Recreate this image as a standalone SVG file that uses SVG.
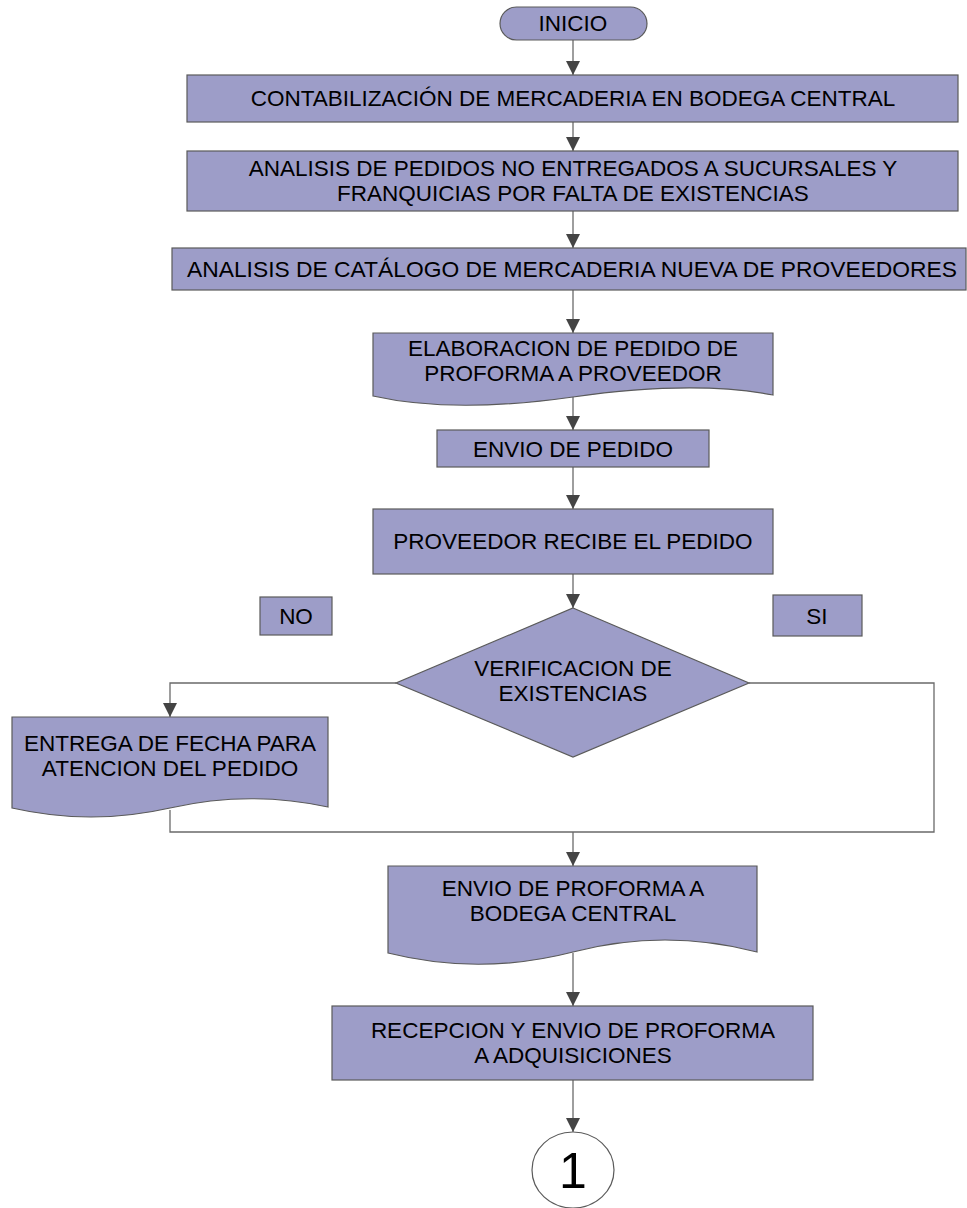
<svg xmlns="http://www.w3.org/2000/svg" width="967" height="1208" viewBox="0 0 967 1208">
  <style>
    .n { fill: #9d9dc8; stroke: #5a5a5a; stroke-width: 1.2; }
    .t { font-family: "Liberation Sans", Arial, sans-serif; font-size: 22.5px; fill: #000; text-anchor: middle; }
    .c { fill: none; stroke: #6a6a6a; stroke-width: 1.3; }
  </style>
  <defs>
    <marker id="arr" viewBox="0 0 14 14" refX="14" refY="7" markerWidth="14" markerHeight="14" markerUnits="userSpaceOnUse" orient="auto">
      <path d="M0,0 L14,7 L0,14 Z" fill="#444"/>
    </marker>
  </defs>
  <rect width="967" height="1208" fill="#fff"/>

  <g id="connectors">
    <path class="c" d="M573,40 V75" marker-end="url(#arr)"/>
    <path class="c" d="M573,122 V151" marker-end="url(#arr)"/>
    <path class="c" d="M573,211 V248" marker-end="url(#arr)"/>
    <path class="c" d="M573,290 V333" marker-end="url(#arr)"/>
    <path class="c" d="M573,397 V430" marker-end="url(#arr)"/>
    <path class="c" d="M573,467 V509" marker-end="url(#arr)"/>
    <path class="c" d="M573,574 V608" marker-end="url(#arr)"/>
    <path class="c" d="M396,683 H170 V717" marker-end="url(#arr)"/>
    <path class="c" d="M749,683 H934 V832 H170 V810"/>
    <path class="c" d="M573,832 V866" marker-end="url(#arr)"/>
    <path class="c" d="M573,953 V1006" marker-end="url(#arr)"/>
    <path class="c" d="M573,1080 V1132" marker-end="url(#arr)"/>
  </g>

  <g id="inicio">
    <rect class="n" x="500" y="7" width="147" height="33" rx="16.5"/>
    <text class="t" x="573" y="31">INICIO</text>
  </g>

  <g id="contabilizacion">
    <rect class="n" x="187" y="75" width="771" height="47"/>
    <text class="t" x="573" y="106">CONTABILIZACIÓN DE MERCADERIA EN BODEGA CENTRAL</text>
  </g>

  <g id="analisis-pedidos">
    <rect class="n" x="187" y="151" width="771" height="60"/>
    <text class="t" x="573" y="176">ANALISIS DE PEDIDOS NO ENTREGADOS A SUCURSALES Y</text>
    <text class="t" x="573" y="201">FRANQUICIAS POR FALTA DE EXISTENCIAS</text>
  </g>

  <g id="analisis-catalogo">
    <rect class="n" x="172" y="248" width="794" height="42"/>
    <text class="t" x="572" y="277" textLength="770" lengthAdjust="spacingAndGlyphs">ANALISIS DE CATÁLOGO DE MERCADERIA NUEVA DE PROVEEDORES</text>
  </g>

  <g id="elaboracion">
    <path class="n" d="M373,333 H773 V395 Q693,380 573,397 Q453,414 373,396 Z"/>
    <text class="t" x="573" y="356">ELABORACION DE PEDIDO DE</text>
    <text class="t" x="573" y="381">PROFORMA A PROVEEDOR</text>
  </g>

  <g id="envio-pedido">
    <rect class="n" x="437" y="430" width="272" height="37"/>
    <text class="t" x="573" y="457">ENVIO DE PEDIDO</text>
  </g>

  <g id="proveedor-recibe">
    <rect class="n" x="373" y="509" width="400" height="65"/>
    <text class="t" x="573" y="549">PROVEEDOR RECIBE EL PEDIDO</text>
  </g>

  <g id="label-no">
    <rect class="n" x="260" y="597" width="72" height="38"/>
    <text class="t" x="296" y="624">NO</text>
  </g>

  <g id="label-si">
    <rect class="n" x="773" y="595" width="89" height="41"/>
    <text class="t" x="817" y="624">SI</text>
  </g>

  <g id="verificacion">
    <path class="n" d="M573,608 L749,683 L573,757 L396,683 Z"/>
    <text class="t" x="573" y="676">VERIFICACION DE</text>
    <text class="t" x="573" y="701">EXISTENCIAS</text>
  </g>

  <g id="entrega-fecha">
    <path class="n" d="M12,717 H328 V807 Q249,790 170,808 Q91,826 12,808 Z"/>
    <text class="t" x="170" y="751">ENTREGA DE FECHA PARA</text>
    <text class="t" x="170" y="776">ATENCION DEL PEDIDO</text>
  </g>

  <g id="envio-proforma">
    <path class="n" d="M388,866 H757 V952 Q665,928 573,952 Q480,976 388,953 Z"/>
    <text class="t" x="573" y="896">ENVIO DE PROFORMA A</text>
    <text class="t" x="573" y="921">BODEGA CENTRAL</text>
  </g>

  <g id="recepcion">
    <rect class="n" x="332" y="1006" width="481" height="74"/>
    <text class="t" x="573" y="1038">RECEPCION Y ENVIO DE PROFORMA</text>
    <text class="t" x="573" y="1063">A ADQUISICIONES</text>
  </g>

  <g id="conector-1">
    <ellipse cx="573" cy="1170" rx="41" ry="38" fill="#fff" stroke="#5a5a5a" stroke-width="1.2"/>
    <text x="573" y="1188" font-family="Liberation Sans, Arial, sans-serif" font-size="50" text-anchor="middle">1</text>
  </g>
</svg>
